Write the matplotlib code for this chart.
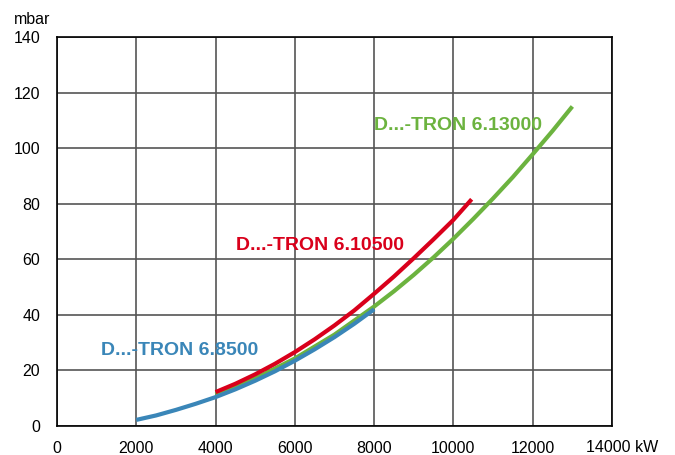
import numpy as np
import matplotlib.pyplot as plt

plt.rcParams["font.family"] = ["Liberation Sans", "DejaVu Sans"]

# power in kW, pressure loss in mbar
power_8500 = [2000, 2500, 3000, 3500, 4000, 4500, 5000, 5500, 6000, 6500, 7000, 7500, 8000]
loss_8500 = [2.2, 3.8, 5.8, 8.0, 10.4, 13.2, 16.3, 19.7, 23.5, 27.6, 32.0, 36.8, 42.0]

power_10500 = [4000, 4500, 5000, 5500, 6000, 6500, 7000, 7500, 8000, 8500, 9000, 9500, 10000, 10460]
loss_10500 = [12.2, 15.2, 18.6, 22.4, 26.6, 31.2, 36.2, 41.6, 47.6, 53.8, 60.4, 67.2, 74.2, 81.6]

power_13000 = [4000, 5000, 6000, 7000, 8000, 8500, 9000, 9500, 10000, 10500, 11000, 11500, 12000, 12500, 13000]
loss_13000 = [11.3, 17.1, 24.3, 32.9, 43.0, 48.5, 54.4, 60.7, 67.4, 74.5, 81.9, 89.6, 97.8, 106.2, 115.0]

curves = [
    ("D...-TRON 6.13000", power_13000, loss_13000, "#6cb33f", (8000, 108)),
    ("D...-TRON 6.10500", power_10500, loss_10500, "#d9001b", (4520, 65)),
    ("D...-TRON 6.8500", power_8500, loss_8500, "#3a86b8", (1100, 27)),
]

x_ticks = [0, 2000, 4000, 6000, 8000, 10000, 12000, 14000]
x_labels = ["0", "2000", "4000", "6000", "8000", "10000", "12000", ""]
y_ticks = [0, 20, 40, 60, 80, 100, 120, 140]

fig = plt.figure(figsize=(6.75, 4.55), dpi=100)
ax = fig.add_axes([57 / 675, 1 - 426 / 455, 555 / 675, 389 / 455])

for name, xs, ys, color, (tx, ty) in curves:
    ax.plot(xs, ys, color=color, lw=3, solid_capstyle="butt", zorder=3)
    ax.text(tx, ty, name, color=color, fontsize=14, fontweight="bold",
            ha="left", va="center", zorder=4)

ax.set_xlim(0, 14000)
ax.set_ylim(0, 140)
ax.set_xticks(x_ticks)
ax.set_xticklabels(x_labels)
ax.set_yticks(y_ticks)
ax.grid(True, color="#555555", lw=1.2)
ax.set_axisbelow(True)
for s in ax.spines.values():
    s.set_color("black")
    s.set_linewidth(1.2)
ax.tick_params(length=0, labelsize=11.5, colors="black")
ax.tick_params(axis="y", pad=12)
ax.tick_params(axis="x", pad=11)

fig.text(14 / 675, 1 - 19 / 455, "mbar", fontsize=11.5, ha="left", va="center")
fig.text(586 / 675, 1 - 447 / 455, "14000 kW", fontsize=11.5, ha="left", va="center")

fig.savefig("out.png", dpi=100)
